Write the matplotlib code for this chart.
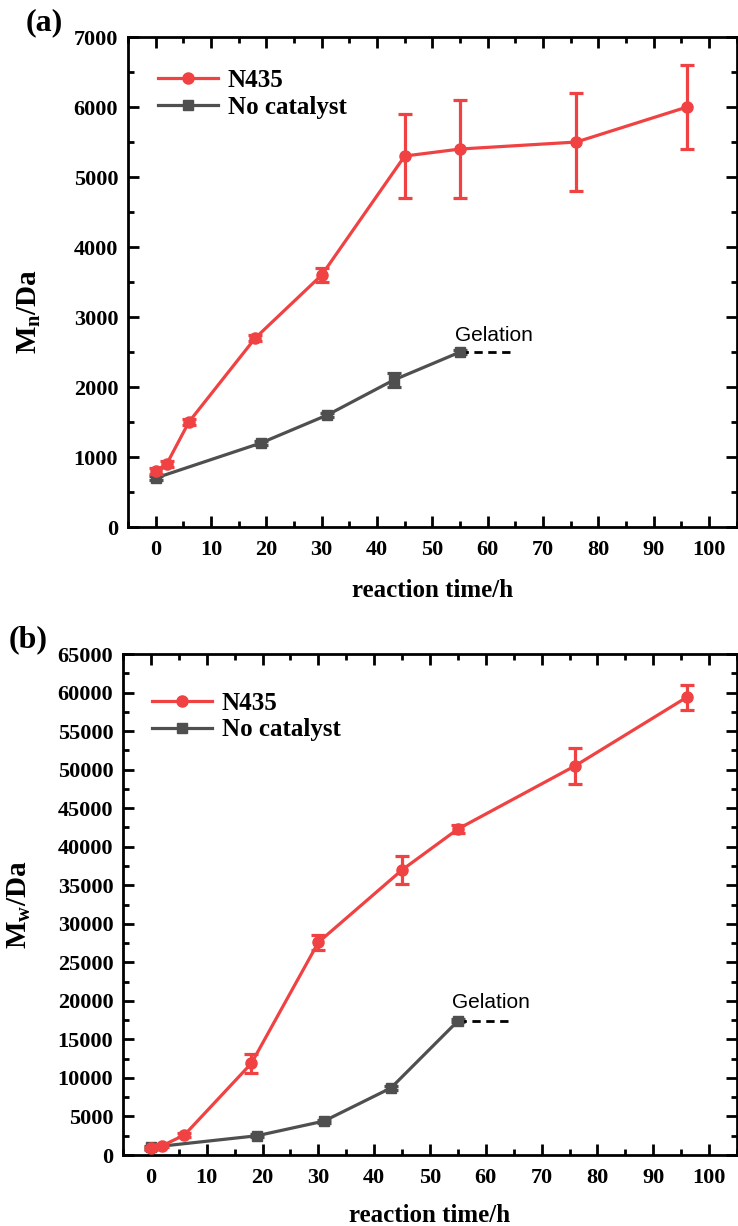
import matplotlib
matplotlib.use("Agg")
import matplotlib.pyplot as plt
from matplotlib.ticker import MultipleLocator
from matplotlib.lines import Line2D

plt.rcParams['font.family'] = 'Liberation Serif'
plt.rcParams['font.weight'] = 'bold'
plt.rcParams['mathtext.fontset'] = 'custom'
plt.rcParams['mathtext.rm'] = 'Liberation Serif:bold'
plt.rcParams['mathtext.it'] = 'Liberation Serif:bold'
plt.rcParams['mathtext.bf'] = 'Liberation Serif:bold'

# data
t_cat = [0, 2, 6, 18, 30, 45, 55, 76, 96]
mn_cat = [800, 900, 1500, 2700, 3600, 5300, 5400, 5500, 6000]
mn_cat_err = [40, 40, 40, 40, 100, 600, 700, 700, 600]
t_nocat = [0, 19, 31, 43, 55]
mn_nocat = [700, 1200, 1600, 2100, 2500]
mn_nocat_err = [30, 30, 30, 100, 30]

mw_cat = [900, 1200, 2600, 11900, 27600, 37000, 42300, 50500, 59400]
mw_cat_err = [200, 200, 200, 1200, 1000, 1800, 500, 2300, 1600]
mw_nocat = [1000, 2500, 4400, 8700, 17400]
mw_nocat_err = [200, 200, 200, 200, 200]

gel_end = 64

red = '#F04242'
gray = '#4F4F4F'

fig = plt.figure(figsize=(7.38, 12.26), dpi=100)
ax1 = fig.add_axes([0.1734, 0.5701, 0.825, 0.3997])
ax2 = fig.add_axes([0.1667, 0.0579, 0.832, 0.4086])


def draw(ax, ycat, ycat_err, ynocat, ynocat_err, ymax, ymaj, ylabel, tag,
         gel_y, gel_txt_y, leg_xy, ylab_xy, xlab_y, tag_x):
    ax.errorbar(t_cat, ycat, yerr=ycat_err, color=red, lw=2.3, marker='o', ms=8,
                capsize=5, capthick=2.3, elinewidth=2.3, zorder=3)
    ax.errorbar(t_nocat, ynocat, yerr=ynocat_err, color=gray, lw=2.3, marker='s', ms=7,
                capsize=5, capthick=2.3, elinewidth=2.3, zorder=2)
    ax.plot([t_nocat[-1], gel_end], [gel_y, gel_y], color='black', ls=(0, (3, 2)), lw=2)
    ax.text(54, gel_txt_y, 'Gelation', family='Liberation Sans', fontweight='normal',
            fontsize=15, va='center', ha='left')
    ax.set_xlim(-5, 105)
    ax.set_ylim(0, ymax)
    ax.xaxis.set_major_locator(MultipleLocator(10))
    ax.xaxis.set_minor_locator(MultipleLocator(5))
    ax.yaxis.set_major_locator(MultipleLocator(ymaj))
    ax.yaxis.set_minor_locator(MultipleLocator(ymaj / 2))
    ax.tick_params(which='both', direction='in', top=True, right=True, width=2,
                   labelsize=16, pad=9)
    ax.tick_params(which='major', length=8)
    ax.tick_params(which='minor', length=4)
    ax.tick_params(axis='y', pad=7)
    for sp in ax.spines.values():
        sp.set_linewidth(2)
    ax.set_xlabel('reaction time/h', fontsize=18, fontweight='bold')
    ax.xaxis.set_label_coords(0.5, xlab_y)
    ax.set_ylabel(ylabel, fontsize=21, fontweight='bold')
    ax.yaxis.set_label_coords(*ylab_xy)
    handles = [Line2D([], [], color=red, lw=2.3, marker='o', ms=8),
               Line2D([], [], color=gray, lw=2.3, marker='s', ms=7)]
    ax.legend(handles, ['N435', 'No catalyst'], loc='upper left', bbox_to_anchor=leg_xy,
              frameon=False, fontsize=18, handlelength=2.4, borderaxespad=0,
              borderpad=0, handletextpad=0.4, labelspacing=0.15)
    ax.text(tag_x, 1.0, tag, transform=ax.transAxes, fontsize=23, fontweight='bold',
            ha='center', va='bottom')


draw(ax1, mn_cat, mn_cat_err, mn_nocat, mn_nocat_err, 7000, 1000,
     'M$_{\\mathrm{n}}$/Da', '(a)', mn_nocat[-1], 2730,
     (0.049, 0.935), (-0.14, 0.44), -0.105, -0.138)
draw(ax2, mw_cat, mw_cat_err, mw_nocat, mw_nocat_err, 65000, 5000,
     'M$_{\\mathrm{w}}$/Da', '(b)', mw_nocat[-1], 19800,
     (0.047, 0.925), (-0.146, 0.5), -0.097, -0.155)

fig.savefig('out.png', dpi=100)
